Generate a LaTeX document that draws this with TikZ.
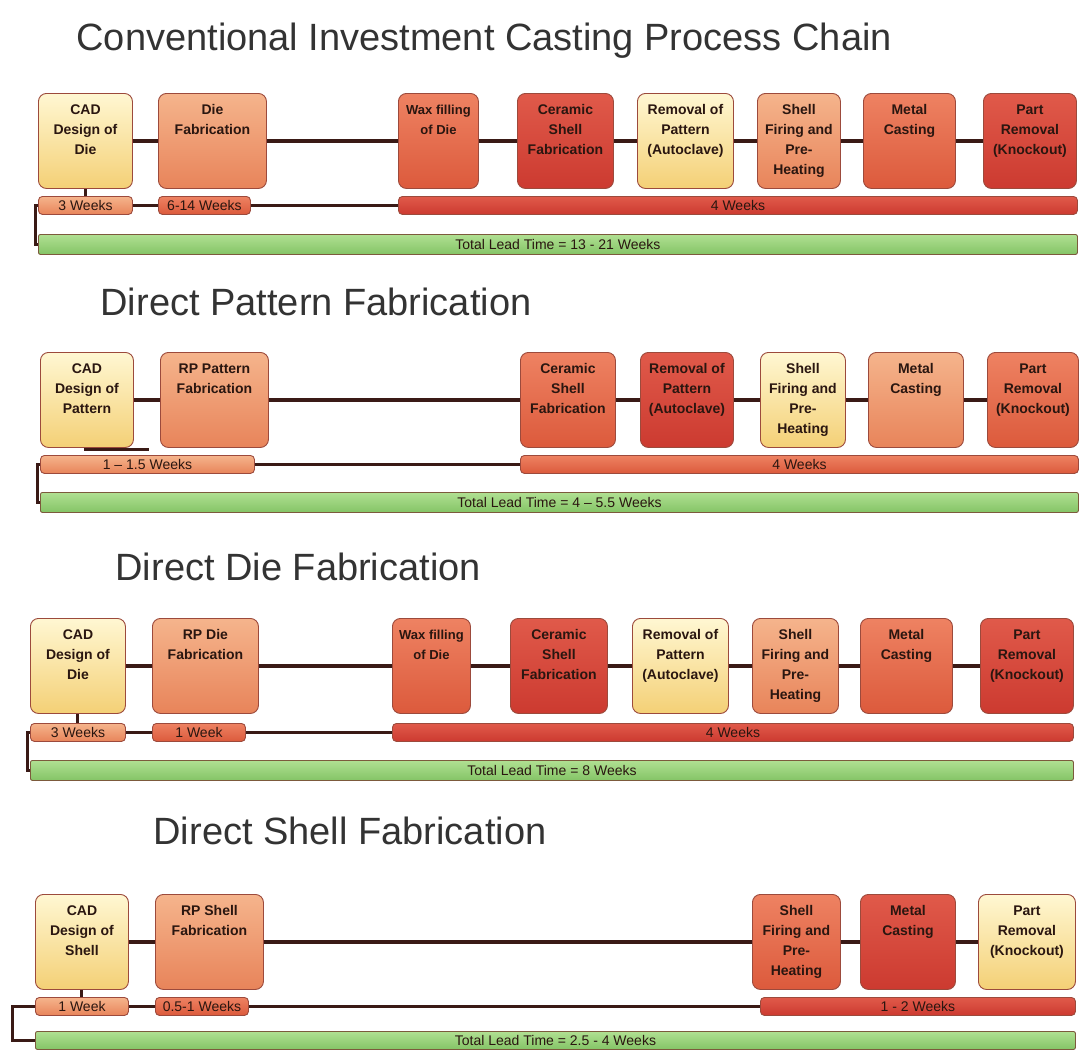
\documentclass[tikz,border=0pt]{standalone}
\usepackage{fontspec}
\setmainfont{Liberation Sans}
\usetikzlibrary{calc}

\definecolor{yelTop}{HTML}{FFF7D2}
\definecolor{yelBot}{HTML}{F4D076}
\definecolor{salTop}{HTML}{F5B48C}
\definecolor{salBot}{HTML}{E8845A}
\definecolor{orgTop}{HTML}{EE8262}
\definecolor{orgBot}{HTML}{DC5A3C}
\definecolor{redTop}{HTML}{E05A4A}
\definecolor{redBot}{HTML}{CC3A30}
\definecolor{grnTop}{HTML}{B0E092}
\definecolor{grnBot}{HTML}{84C466}
\definecolor{grnEdge}{HTML}{7C5A3C}
\definecolor{edge}{HTML}{9C4A3C}
\definecolor{wire}{HTML}{3A1A16}
\definecolor{ink}{HTML}{2A1610}

\tikzset{
  stage/.style={draw=edge, line width=0.9pt, rounded corners=8pt, anchor=north west,
    inner sep=0pt, minimum height=95pt, text=ink,
    font=\fontsize{14}{20}\selectfont\bfseries},
  span/.style={draw=edge, line width=0.9pt, rounded corners=4pt, anchor=north west,
    inner sep=0pt, minimum height=18pt, text=ink, font=\fontsize{14}{16}\selectfont},
  total/.style={span, draw=grnEdge, rounded corners=2pt, minimum height=20pt,
    top color=grnTop, bottom color=grnBot},
  yel/.style={top color=yelTop, bottom color=yelBot},
  sal/.style={top color=salTop, bottom color=salBot},
  org/.style={top color=orgTop, bottom color=orgBot},
  rd/.style={top color=redTop, bottom color=redBot},
  link/.style={draw=wire, line width=4pt},
  thinlink/.style={draw=wire, line width=3pt},
  heading/.style={anchor=base west, text=black!80, font=\fontsize{38}{40}\selectfont}
}

% name, x, y, width, colour, text (optional font switch first)
\newcommand\stagebox[7][]{\node[stage, #6, minimum width=#5pt] (#2) at (#3,#4)
  {\parbox[t][95pt][t]{#5pt}{\centering#1\rule{0pt}{21pt}#7}};}
\newcommand\spanbar[6]{\node[span, #5, minimum width=#4pt] (#1) at (#2,#3) {#6};}

\begin{document}
\begin{tikzpicture}[x=1pt, y=-1pt]
  \useasboundingbox (0,0) rectangle (1080,1050);

  %%%%% conventional chain %%%%%
  \node[heading] (head1) at (73,50) {Conventional Investment Casting Process Chain};

  \stagebox{cad1}{38}{93}{94}{yel}{CAD\\Design of\\Die}
  \stagebox{die1}{158}{93}{108}{sal}{Die\\Fabrication}
  \stagebox[\fontsize{13}{20}\selectfont]{wax1}{398}{93}{80}{org}{Wax filling\\of Die}
  \stagebox{cer1}{517}{93}{96}{rd}{Ceramic\\Shell\\Fabrication}
  \stagebox{rem1}{637}{93}{96}{yel}{Removal of\\Pattern\\(Autoclave)}
  \stagebox{fir1}{757}{93}{83}{sal}{Shell\\Firing and\\Pre-\\Heating}
  \stagebox{met1}{863}{93}{92}{org}{Metal\\Casting}
  \stagebox{prt1}{983}{93}{93}{rd}{Part\\Removal\\(Knockout)}

  \spanbar{wk1a}{38}{196}{94}{sal}{3 Weeks}
  \spanbar{wk1b}{158}{196}{92}{org}{6-14 Weeks}
  \spanbar{wk1c}{398}{196}{679}{rd}{4 Weeks}
  \node[total, minimum width=1039pt] (tot1) at (38,234) {Total Lead Time = 13 - 21 Weeks};

  \draw[link] (cad1) -- (die1) (die1) -- (wax1) (wax1) -- (cer1) (cer1) -- (rem1)
    (rem1) -- (fir1) (fir1) -- (met1) (met1) -- (prt1);
  \draw[thinlink] (wk1a) -- (wk1b) (wk1b) -- (wk1c) (cad1) -- (wk1a);
  \draw[thinlink] (wk1a.west) -- ++(-3,0) |- (tot1.west);

  %%%%% direct pattern %%%%%
  \node[heading] (head2) at (97,315) {Direct Pattern Fabrication};

  \stagebox{cad2}{40}{352}{93}{yel}{CAD\\Design of\\Pattern}
  \stagebox{rpp2}{160}{352}{108}{sal}{RP Pattern\\Fabrication}
  \stagebox{cer2}{520}{352}{95}{org}{Ceramic\\Shell\\Fabrication}
  \stagebox{rem2}{640}{352}{93}{rd}{Removal of\\Pattern\\(Autoclave)}
  \stagebox{fir2}{760}{352}{85}{yel}{Shell\\Firing and\\Pre-\\Heating}
  \stagebox{met2}{868}{352}{95}{sal}{Metal\\Casting}
  \stagebox{prt2}{987}{352}{91}{org}{Part\\Removal\\(Knockout)}

  \spanbar{wk2a}{40}{455}{214}{sal}{1 – 1.5 Weeks}
  \spanbar{wk2b}{520}{455}{558}{org}{4 Weeks}
  \node[total, minimum width=1038pt] (tot2) at (40,492) {Total Lead Time = 4 – 5.5 Weeks};

  \draw[link] (cad2) -- (rpp2) (rpp2) -- (cer2) (cer2) -- (rem2) (rem2) -- (fir2)
    (fir2) -- (met2) (met2) -- (prt2);
  \draw[thinlink] (wk2a) -- (wk2b);
  \draw[thinlink] ([xshift=-3pt,yshift=-2pt]cad2.south) -- ++(65,0);
  \draw[thinlink] (wk2a.west) -- ++(-3,0) |- (tot2.west);

  %%%%% direct die %%%%%
  \node[heading] (head3) at (112,580) {Direct Die Fabrication};

  \stagebox{cad3}{30}{618}{95}{yel}{CAD\\Design of\\Die}
  \stagebox{rpd3}{152}{618}{106}{sal}{RP Die\\Fabrication}
  \stagebox[\fontsize{13}{20}\selectfont]{wax3}{392}{618}{78}{org}{Wax filling\\of Die}
  \stagebox{cer3}{510}{618}{97}{rd}{Ceramic\\Shell\\Fabrication}
  \stagebox{rem3}{632}{618}{96}{yel}{Removal of\\Pattern\\(Autoclave)}
  \stagebox{fir3}{752}{618}{86}{sal}{Shell\\Firing and\\Pre-\\Heating}
  \stagebox{met3}{860}{618}{92}{org}{Metal\\Casting}
  \stagebox{prt3}{980}{618}{93}{rd}{Part\\Removal\\(Knockout)}

  \spanbar{wk3a}{30}{723}{95}{sal}{3 Weeks}
  \spanbar{wk3b}{152}{723}{93}{org}{1 Week}
  \spanbar{wk3c}{392}{723}{681}{rd}{4 Weeks}
  \node[total, minimum width=1043pt] (tot3) at (30,760) {Total Lead Time = 8 Weeks};

  \draw[link] (cad3) -- (rpd3) (rpd3) -- (wax3) (wax3) -- (cer3) (cer3) -- (rem3)
    (rem3) -- (fir3) (fir3) -- (met3) (met3) -- (prt3);
  \draw[thinlink] (wk3a) -- (wk3b) (wk3b) -- (wk3c) (cad3) -- (wk3a);
  \draw[thinlink] (wk3a.west) -- ++(-3,0) |- (tot3.west);

  %%%%% direct shell %%%%%
  \node[heading] (head4) at (150,844) {Direct Shell Fabrication};

  \stagebox{cad4}{35}{894}{93}{yel}{CAD\\Design of\\Shell}
  \stagebox{rps4}{155}{894}{108}{sal}{RP Shell\\Fabrication}
  \stagebox{fir4}{752}{894}{88}{org}{Shell\\Firing and\\Pre-\\Heating}
  \stagebox{met4}{860}{894}{95}{rd}{Metal\\Casting}
  \stagebox{prt4}{978}{894}{97}{yel}{Part\\Removal\\(Knockout)}

  \spanbar{wk4a}{35}{997}{93}{sal}{1 Week}
  \spanbar{wk4b}{155}{997}{93}{org}{0.5-1 Weeks}
  \spanbar{wk4c}{760}{997}{315}{rd}{1 - 2 Weeks}
  \node[total, minimum width=1040pt, minimum height=18pt] (tot4) at (35,1031) {Total Lead Time = 2.5 - 4 Weeks};

  \draw[link] (cad4) -- (rps4) (rps4) -- (fir4) (fir4) -- (met4) (met4) -- (prt4);
  \draw[thinlink] (wk4a) -- (wk4b) (wk4b) -- (wk4c) (cad4) -- (wk4a);
  \draw[thinlink] (wk4a.west) -- ++(-23,0) |- (tot4.west);
\end{tikzpicture}
\end{document}
